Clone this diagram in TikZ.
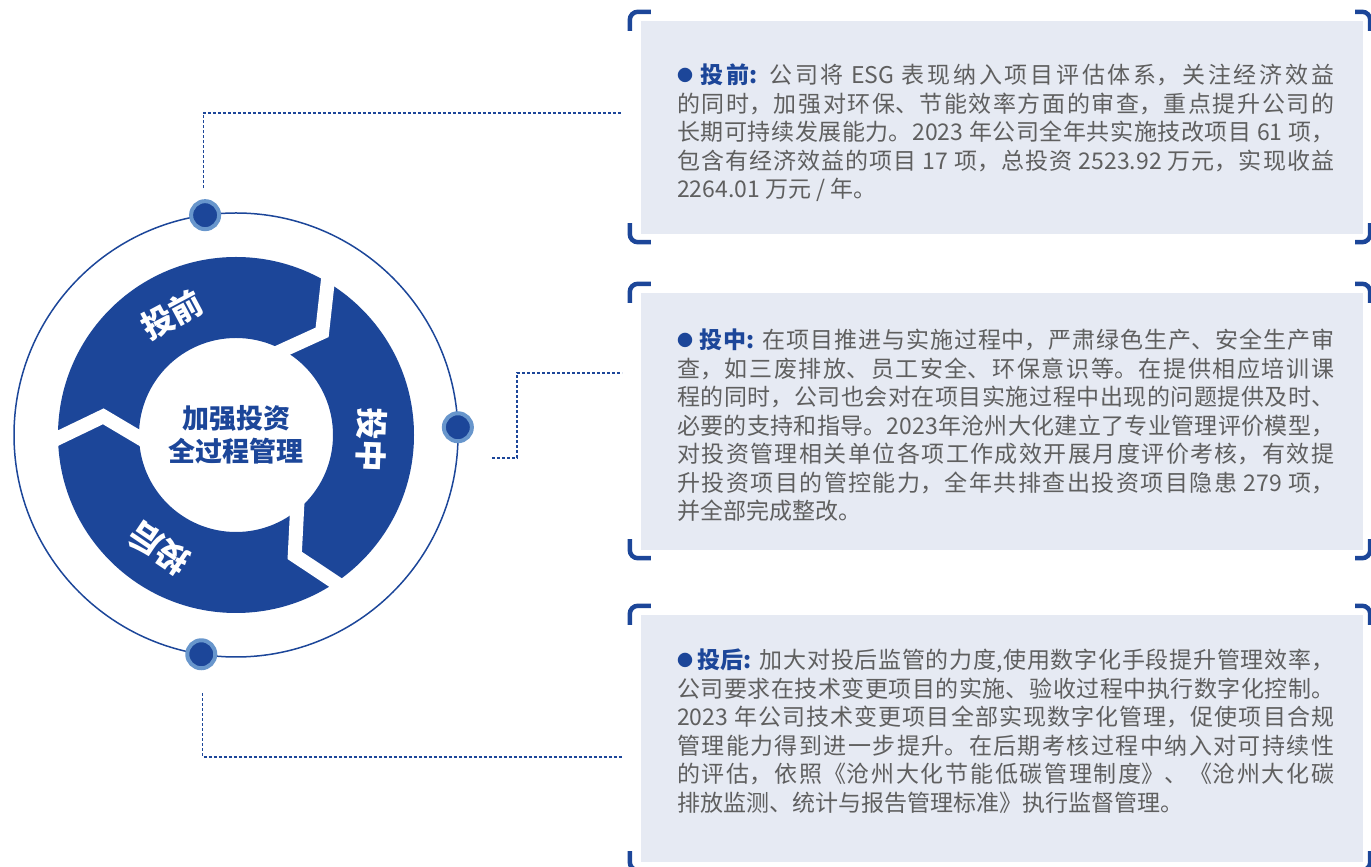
\documentclass[tikz,border=0pt]{standalone}
\usepackage{fontspec}
\setmainfont{Noto Sans CJK SC}
\usetikzlibrary{calc}
\definecolor{ringblue}{RGB}{28,70,153}
\definecolor{dotblue}{RGB}{104,150,204}
\definecolor{panelgray}{RGB}{230,234,243}
\definecolor{textgray}{RGB}{95,95,95}
\XeTeXlinebreaklocale "zh"
\XeTeXlinebreakskip=0pt plus 3pt minus 1pt
\tikzset{
  panel/.style={rectangle,fill=panelgray,inner sep=0pt,minimum width=722pt},
  brace/.style={draw=ringblue,line width=4.5pt,rounded corners=8pt},
  link/.style={draw=ringblue,line width=1.2pt,dash pattern=on 3pt off 2pt},
  dot/.style={circle,fill=ringblue,draw=dotblue,line width=4pt,minimum size=28pt,inner sep=0pt},
  gapline/.style={draw=white,line width=14pt,shorten <=-14pt,shorten >=-14pt},
  seglabel/.style={text=white,inner sep=0pt,font=\fontsize{32}{32}\selectfont\bfseries},
  bodytext/.style={anchor=base west,text width=657pt,align=justify,inner sep=0pt,text=textgray,font=\fontsize{23}{28.5}\selectfont},
}
\newcommand{\headtag}[1]{{\color{ringblue}\raisebox{2.5pt}{\fontsize{16}{16}\selectfont ●}\bfseries #1}}
\begin{document}
\begin{tikzpicture}[x=1pt,y=1pt]
  \useasboundingbox (0,0) rectangle (1371,867);
  \clip (0,0) rectangle (1371,867);
  \coordinate (C) at (236,432);
  \draw[ringblue,line width=1.5pt] (C) circle (222);
  \fill[ringblue,even odd rule] (C) circle (178) (C) circle (97);
  \foreach \a/\b/\c in {59/50/61,-56/-64/-51,181/172/181.5}
    \draw[gapline] ($(C)+(\a:178)$) -- ($(C)+(\b:134)$) -- ($(C)+(\c:97)$);
  \node[align=center,text=ringblue,font=\fontsize{27}{33}\selectfont\bfseries] (hub) at (C) {加强投资\\全过程管理};
  \node[seglabel,rotate=28] (pre) at ($(C)+(118:136)$) {投前};
  \node[seglabel,rotate=-92] (mid) at ($(C)+(-2:136)$) {投中};
  \node[seglabel,rotate=146] (post) at ($(C)+(236:137)$) {投后};
  \node[dot] (dtop) at ($(C)+(98:222)$) {};
  \node[dot] (dright) at ($(C)+(2:222)$) {};
  \node[dot] (dbottom) at ($(C)+(261:222)$) {};

  \node[panel,minimum height=213pt] (p1) at (1002,739.5) {};
  \node[panel,minimum height=257pt] (p2) at (1002,445.5) {};
  \node[panel,minimum height=247pt] (p3) at (1002,128.5) {};
  \foreach \p in {p1,p2,p3} {
    \draw[brace] ([xshift=-11pt,yshift=-10pt]\p.north west) |- ([xshift=10pt,yshift=9pt]\p.north west);
    \draw[brace] ([xshift=-11pt,yshift=11pt]\p.south west) |- ([xshift=10pt,yshift=-8pt]\p.south west);
    \draw[brace] ([xshift=7pt,yshift=-10pt]\p.north east) |- ([xshift=-8pt,yshift=9pt]\p.north east);
    \draw[brace] ([xshift=7pt,yshift=11pt]\p.south east) |- ([xshift=-8pt,yshift=-8pt]\p.south east);
  }

  \coordinate (e1) at (622,754);
  \coordinate (e2) at (622,494);
  \coordinate (e3) at (622,110);
  \coordinate (s2) at (492,409);
  \coordinate (k2) at (517,494);
  \draw[link] ([xshift=-2pt,yshift=11pt]dtop.north) |- (e1);
  \draw[link] (s2) -| (k2) -- (e2);
  \draw[link] ([xshift=1pt,yshift=-23pt]dbottom.south) |- (e3);

  \node[bodytext] (t1) at (677,783) {\headtag{\ 投前:} 公司将 ESG 表现纳入项目评估体系，关注经济效益\linebreak
的同时，加强对环保、节能效率方面的审查，重点提升公司的\linebreak
长期可持续发展能力。2023 年公司全年共实施技改项目 61 项，\linebreak
包含有经济效益的项目 17 项，总投资 2523.92 万元，实现收益\linebreak
2264.01 万元 / 年。};
  \node[bodytext] (t2) at (677,518) {\headtag{\ 投中:} 在项目推进与实施过程中，严肃绿色生产、安全生产审\linebreak
查，如三废排放、员工安全、环保意识等。在提供相应培训课\linebreak
程的同时，公司也会对在项目实施过程中出现的问题提供及时、\linebreak
必要的支持和指导。2023年沧州大化建立了专业管理评价模型，\linebreak
对投资管理相关单位各项工作成效开展月度评价考核，有效提\linebreak
升投资项目的管控能力，全年共排查出投资项目隐患 279 项，\linebreak
并全部完成整改。};
  \node[bodytext] (t3) at (677,198) {\headtag{\,投后:} 加大对投后监管的力度,使用数字化手段提升管理效率，\linebreak
公司要求在技术变更项目的实施、验收过程中执行数字化控制。\linebreak
2023 年公司技术变更项目全部实现数字化管理，促使项目合规\linebreak
管理能力得到进一步提升。在后期考核过程中纳入对可持续性\linebreak
的评估，依照《沧州大化节能低碳管理制度》、《沧州大化碳\linebreak
排放监测、统计与报告管理标准》执行监督管理。};
\end{tikzpicture}
\end{document}
